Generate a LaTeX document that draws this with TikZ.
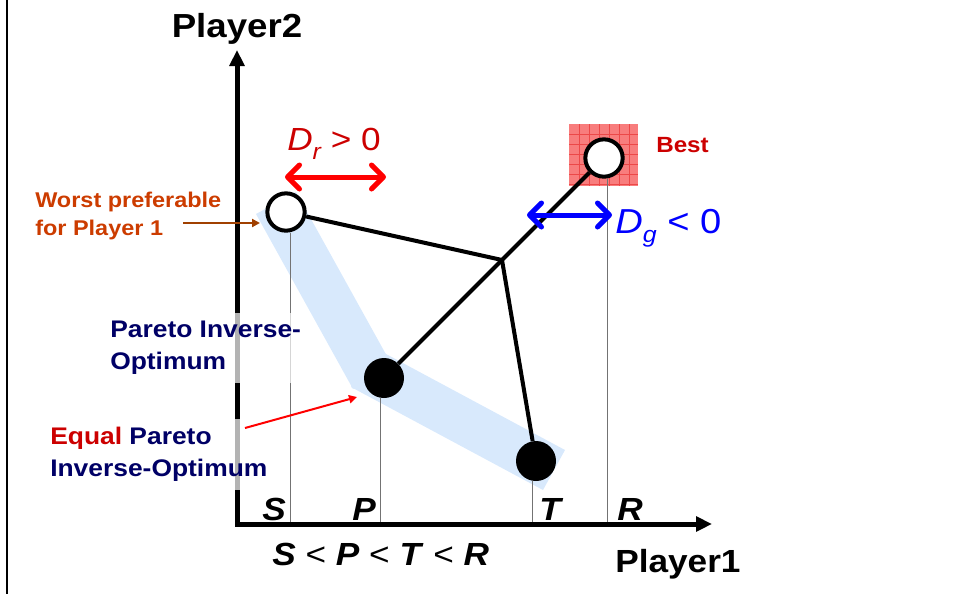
\documentclass[tikz,border=0pt]{standalone}
\usepackage{fontspec}
\setmainfont{Liberation Sans}[FakeStretch=1.1]
\usetikzlibrary{arrows.meta}
\definecolor{darkred}{RGB}{204,0,0}
\definecolor{navy}{RGB}{0,0,102}
\definecolor{rust}{RGB}{204,60,0}
\definecolor{rustarrow}{RGB}{160,64,0}
\definecolor{bandblue}{RGB}{216,233,252}
\definecolor{bestpink}{RGB}{248,125,125}
\definecolor{bestgrid}{RGB}{236,72,72}
\newcommand{\lowsub}[2][7pt]{\raisebox{-#1}{\fontsize{17}{17}\selectfont\itshape #2}}
\newcommand{\bil}[1]{\textbf{\textit{#1}}}

\begin{document}
\begin{tikzpicture}[x=0.75pt,y=-0.75pt,
  link/.style={line width=3pt},
  opencirc/.style={circle,draw,line width=3pt,fill=white,minimum size=28pt,inner sep=0pt},
  fullcirc/.style={circle,fill=black,minimum size=30pt,inner sep=0pt},
  tickline/.style={black!55,line width=0.75pt},
  axis/.style={line width=3.75pt,line join=miter,{Triangle[length=12pt,width=11pt]}-{Triangle[length=12pt,width=11pt]}},
  dblarrow/.style={line width=3.75pt,{Straight Barb[length=9pt,width=18pt,round]}-{Straight Barb[length=9pt,width=18pt,round]}},
  thinarrow/.style={line width=1.5pt,-{Triangle[length=6pt,width=6pt]}},
  txt/.style={anchor=base west,inner sep=0pt},
  letter/.style={txt,font=\fontsize{24}{28}\selectfont\bfseries\itshape},
  label/.style={anchor=north west,align=left,font=\fontsize{18}{24}\selectfont\bfseries,inner xsep=0pt,inner ysep=6pt,fill=white,fill opacity=0.7,text opacity=1}]
  \useasboundingbox (0,0) rectangle (962,594);
  \draw[line width=2pt] (7,0) -- (7,594);
  \fill[bandblue] (256,214) -- (296,192) -- (393,367) -- (353,389) -- cycle;
  \fill[bandblue] (373,347) -- (565,450) -- (543,490) -- (351,387) -- cycle;
  \fill[bestpink] (569,124) rectangle (638,186);
  \foreach \gx in {579,589,...,629}{\draw[bestgrid,line width=0.4pt] (\gx,124) -- (\gx,186);}
  \foreach \gy in {134,144,...,184}{\draw[bestgrid,line width=0.4pt] (569,\gy) -- (638,\gy);}
  \coordinate (o) at (237,524);
  \coordinate (ytip) at (237,50);
  \coordinate (xtip) at (712,524);
  \coordinate (j) at (502,260);
  \node[opencirc] (s) at (286,212) {};
  \node[opencirc] (r) at (604,158) {};
  \node[fullcirc] (p) at (384,378) {};
  \node[fullcirc] (t) at (536,461) {};
  \foreach \c/\tx in {s/290,p/380,t/532,r/607}{\draw[tickline] (\tx,0 |- \c.south) -- (\tx,524);}
  \draw[axis] (ytip) -- (o) -- (xtip);
  \draw[link] (s) -- (j);
  \draw[link] (r) -- (j);
  \draw[link] (j) -- (p);
  \draw[link] (j) -- (t);
  \coordinate (drl) at (285,177);
  \coordinate (drr) at (386,177);
  \coordinate (dgl) at (527,215);
  \coordinate (dgr) at (612,215);
  \draw[dblarrow,red] (drl) -- (drr);
  \draw[dblarrow,blue] (dgl) -- (dgr);
  \node[txt,anchor=base,font=\fontsize{25}{30}\selectfont\bfseries] (p2) at (237,37) {Player2};
  \node[txt,font=\fontsize{24}{30}\selectfont\bfseries] (p1) at (615,572) {Player1};
  \node[txt,text=darkred,font=\fontsize{16.5}{20}\selectfont\bfseries] (best) at (656,152) {Best};
  \node[txt,text=darkred,font=\fontsize{24}{28}\selectfont] (dr) at (287,150) {\textit{D}\lowsub{r} > 0};
  \node[txt,text=blue,font=\fontsize{26}{30}\selectfont] (dg) at (615,233) {\textit{D}\lowsub{g} < 0};
  \foreach \lab/\lx in {S/262,P/352,T/539,R/617}{\node[letter] (lab\lab) at (\lx,520) {\lab};}
  \node[txt,font=\fontsize{24}{28}\selectfont] (order) at (272,565) {\bil{S} < \bil{P} < \bil{T} < \bil{R}};
  \node[anchor=north west,align=left,text=rust,font=\fontsize{16}{21}\selectfont\bfseries,inner sep=0pt] (worst) at (35,192) {Worst preferable\\for Player 1};
  \coordinate (wstart) at (183,223);
  \coordinate (wtip) at (260,223);
  \draw[thinarrow,rustarrow] (wstart) -- (wtip);
  \node[label,text=navy] (pio) at (110,313) {Pareto Inverse-\\Optimum};
  \node[label,text=navy] (epio) at (50,419) {\textcolor{darkred}{Equal} Pareto\\Inverse-Optimum};
  \coordinate (estart) at (245,428);
  \coordinate (etip) at (357,397);
  \draw[thinarrow,red] (estart) -- (etip);
\end{tikzpicture}
\end{document}
